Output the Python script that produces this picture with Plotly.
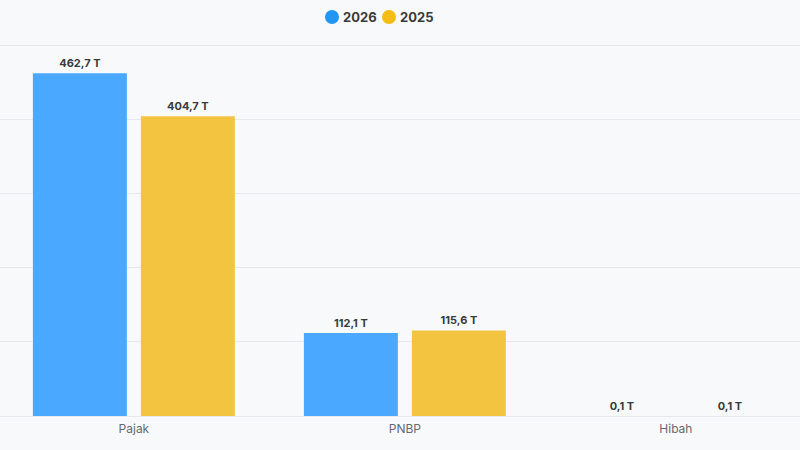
import plotly.graph_objects as go

categories = ["Pajak", "PNBP", "Hibah"]
values_2026 = [462.7, 112.1, 0.1]
values_2025 = [404.7, 115.6, 0.1]
series_names = ["2026", "2025"]

def fmt(v):
    return f"{v:.1f}".replace(".", ",") + " T"

bar_colors = ["#4aa8ff", "#f2c440"]
legend_colors = ["#2196f3", "#f5bc14"]
FONT = "Inter, Noto Sans, sans-serif"

fig = go.Figure()
for name, vals, col in zip(series_names, [values_2026, values_2025], bar_colors):
    # bars too small to be visible at this scale (< 1px) are drawn transparent
    colors = [col if v >= 1 else "rgba(0,0,0,0)" for v in vals]
    fig.add_trace(go.Bar(
        x=categories, y=vals, name=name, marker_color=colors, marker_line_width=0,
        text=[fmt(v) for v in vals], textposition="outside", cliponaxis=False,
        textfont=dict(family=FONT, size=11, color="#3a3a3a", weight="bold"),
        showlegend=False,
    ))

PLOT_TOP = 42
PLOT_H = 450 - 34 - PLOT_TOP
legend_x = [332, 389]
for name, col, lx in zip(series_names, legend_colors, legend_x):
    yc = 1 + (PLOT_TOP - 17) / PLOT_H
    fig.add_shape(type="circle", xref="paper", yref="paper", xsizemode="pixel", ysizemode="pixel",
                  xanchor=lx / 800, yanchor=yc,
                  x0=-7, x1=7, y0=-7, y1=7, fillcolor=col, line_width=0)
    fig.add_annotation(text=name, xref="paper", yref="paper", x=(lx + 9) / 800, y=yc,
                       xanchor="left", yanchor="middle", showarrow=False,
                       font=dict(family=FONT, size=13, color="#3a3a3a", weight="bold"))

fig.update_layout(
    width=800, height=450,
    margin=dict(l=0, r=0, t=PLOT_TOP, b=34),
    paper_bgcolor="#f8f9fb", plot_bgcolor="#f8f9fb",
    barmode="group", bargap=0.203, bargroupgap=0.13,
    showlegend=False,
    xaxis=dict(range=[-0.494, 2.458], showgrid=False, zeroline=False, showline=False,
               tickfont=dict(family=FONT, size=12, color="#666a70"),
               ticks="", ticklabelstandoff=4),
    yaxis=dict(range=[0, 505], dtick=100, showticklabels=False, gridcolor="#e6e8ec", gridwidth=1,
               zeroline=True, zerolinecolor="#e6e8ec", zerolinewidth=1, showline=False,
               layer="above traces"),
)
fig.write_html("out.html", config={"displayModeBar": False},
               post_script="document.body.style.margin='0';document.body.style.overflow='hidden';")
